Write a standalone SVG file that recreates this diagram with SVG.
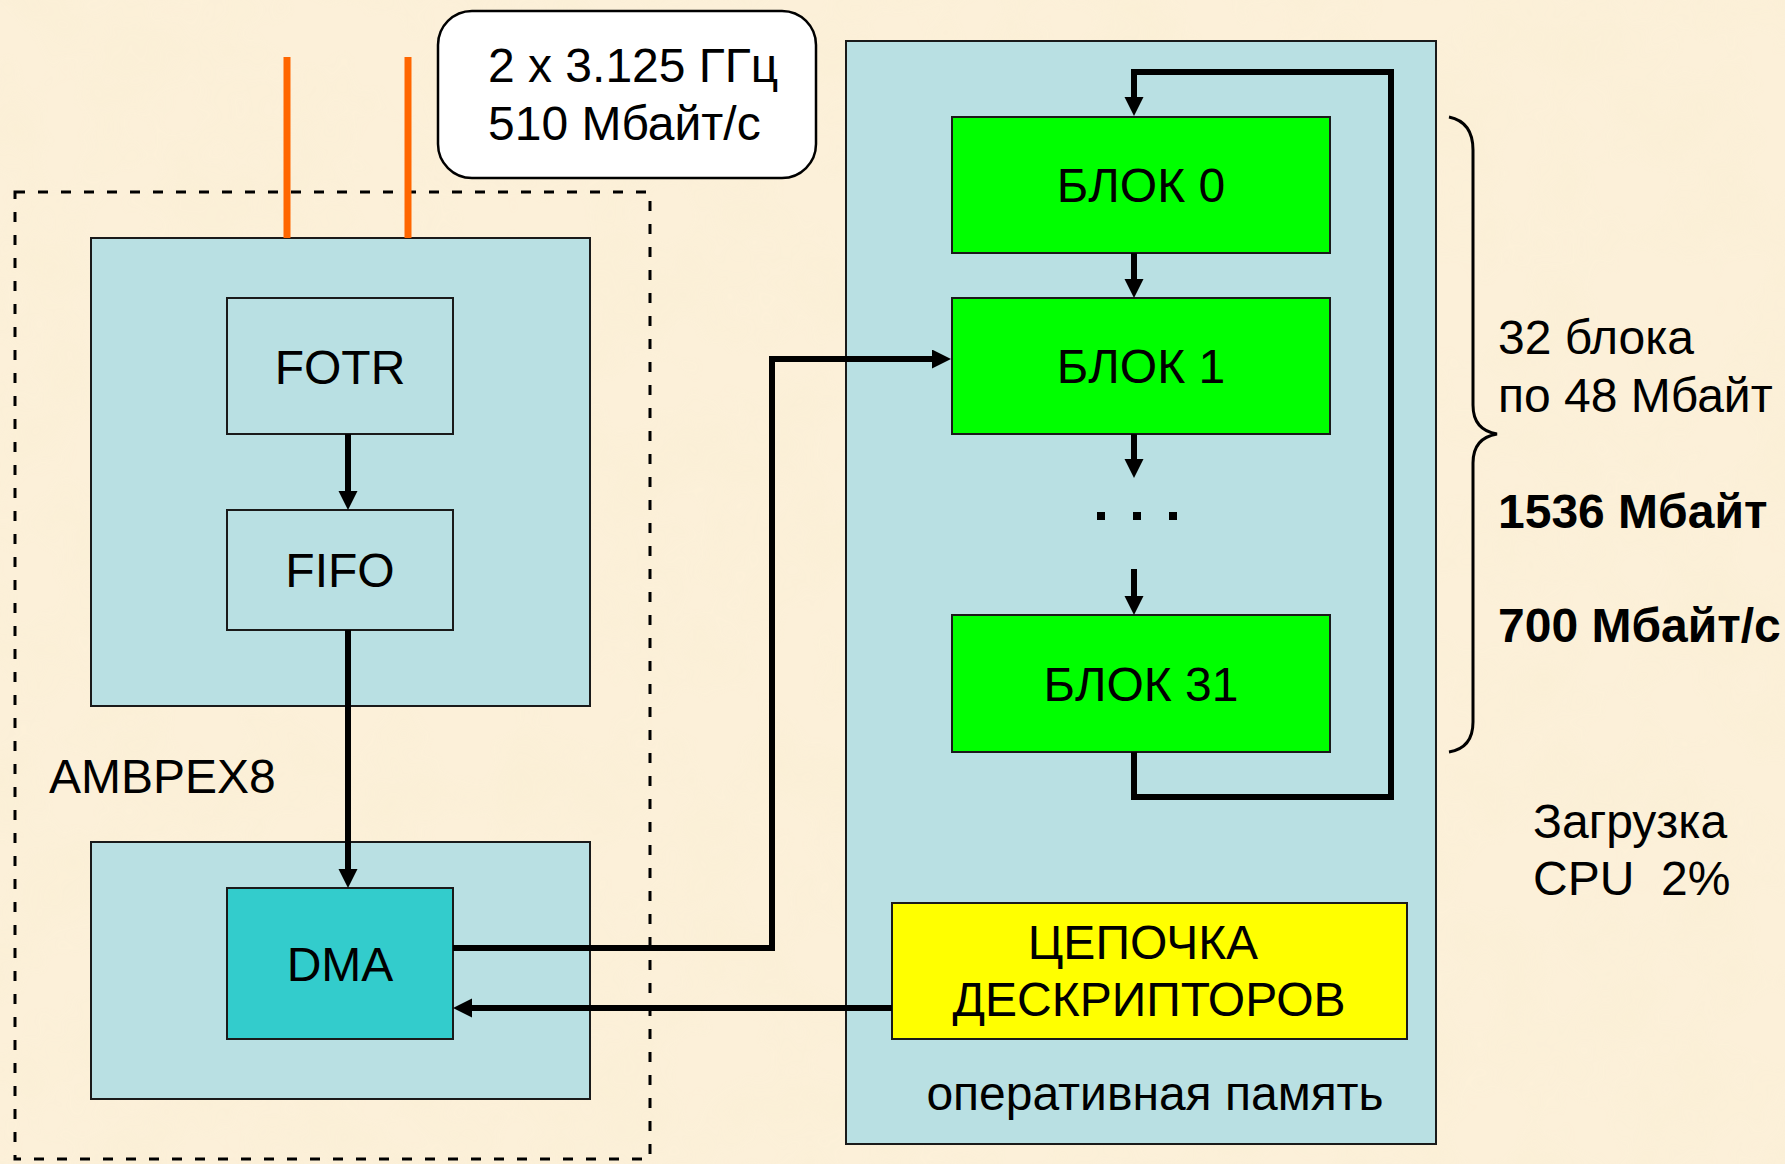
<svg xmlns="http://www.w3.org/2000/svg" width="1785" height="1164" viewBox="0 0 1785 1164">
<style>
text{font-family:"Liberation Sans",Arial,sans-serif;font-size:48px;fill:#000}
.c{text-anchor:middle}
.b{font-weight:bold}
.blue{fill:#B9E0E3;stroke:#1a1a1a;stroke-width:2}
.grn{fill:#00FF00;stroke:#1a1a1a;stroke-width:2}
.conn{fill:none;stroke:#000;stroke-width:6}
</style>
<defs>
<marker id="ah" markerUnits="userSpaceOnUse" markerWidth="20" markerHeight="20" refX="9" refY="9.5" orient="auto">
<path d="M0,0 L19,9.5 L0,19 z" fill="#000"/>
</marker>
<filter id="paper" x="0" y="0" width="100%" height="100%">
<feTurbulence type="fractalNoise" baseFrequency="0.012" numOctaves="3" seed="7" result="n"/>
<feColorMatrix type="matrix" values="0 0 0 0 0.93  0 0 0 0 0.85  0 0 0 0 0.62  0 0 0 1.2 -0.45"/>
</filter>
</defs>
<rect x="0" y="0" width="1785" height="1164" fill="#FCF0D9"/>
<rect x="0" y="0" width="1785" height="1164" filter="url(#paper)" opacity="0.45"/>

<g id="ambpex8">
<rect x="15" y="192" width="635" height="967" fill="none" stroke="#000" stroke-width="3" stroke-dasharray="10,13"/>
<text x="49" y="793">AMBPEX8</text>
</g>
<g id="fpga-box"><rect class="blue" x="91" y="238" width="499" height="468"/></g>
<g id="pcie-box"><rect class="blue" x="91" y="842" width="499" height="257"/></g>
<g id="links">
<line x1="287" y1="57" x2="287" y2="238" stroke="#FF6600" stroke-width="7"/>
<line x1="408" y1="57" x2="408" y2="238" stroke="#FF6600" stroke-width="7"/>
</g>
<g id="rate-label">
<rect x="438" y="11" width="378" height="167" rx="34" ry="34" fill="#fff" stroke="#000" stroke-width="2.5"/>
<text x="488" y="82">2 x 3.125 ГГц</text>
<text x="488" y="140">510 Мбайт/с</text>
</g>
<g id="fotr"><rect class="blue" x="227" y="298" width="226" height="136"/><text class="c" x="340" y="384">FOTR</text></g>
<g id="fifo"><rect class="blue" x="227" y="510" width="226" height="120"/><text class="c" x="340" y="587">FIFO</text></g>
<g id="dma"><rect x="227" y="888" width="226" height="151" fill="#33CCCC" stroke="#1a1a1a" stroke-width="2"/><text class="c" x="340" y="981">DMA</text></g>

<g id="ram">
<rect class="blue" x="846" y="41" width="590" height="1103"/>
<text class="c" x="1155" y="1110">оперативная память</text>
</g>
<g id="blk0"><rect class="grn" x="952" y="117" width="378" height="136"/><text class="c" x="1141" y="202">БЛОК 0</text></g>
<g id="blk1"><rect class="grn" x="952" y="298" width="378" height="136"/><text class="c" x="1141" y="383">БЛОК 1</text></g>
<g id="dots">
<rect x="1097" y="512" width="8" height="8"/>
<rect x="1133" y="512" width="8" height="8"/>
<rect x="1169" y="512" width="8" height="8"/>
</g>
<g id="blk31"><rect class="grn" x="952" y="615" width="378" height="137"/><text class="c" x="1141" y="701">БЛОК 31</text></g>
<g id="desc"><rect x="892" y="903" width="515" height="136" fill="#FFFF00" stroke="#1a1a1a" stroke-width="2"/>
<text class="c" x="1143" y="959">ЦЕПОЧКА</text><text class="c" x="1149" y="1016">ДЕСКРИПТОРОВ</text></g>

<g id="notes">
<path d="M1449,117 Q1473,122 1473,150 L1473,405 Q1473,430 1497,434 Q1473,438 1473,463 L1473,722 Q1473,748 1449,752" fill="none" stroke="#000" stroke-width="3"/>
<text x="1498" y="354">32 блока</text>
<text x="1498" y="412">по 48 Мбайт</text>
<text class="b" x="1498" y="528">1536 Мбайт</text>
<text class="b" x="1498" y="642">700 Мбайт/с</text>
<text x="1533" y="838">Загрузка</text>
<text x="1533" y="895" xml:space="preserve">CPU  2%</text>
</g>

<g id="connectors">
<path class="conn" d="M348,434 V500" marker-end="url(#ah)"/>
<path class="conn" d="M348,630 V878" marker-end="url(#ah)"/>
<path class="conn" d="M453,948 H772 V359 H941" marker-end="url(#ah)"/>
<path class="conn" d="M892,1008 H463" marker-end="url(#ah)"/>
<path class="conn" d="M1134,253 V288" marker-end="url(#ah)"/>
<path class="conn" d="M1134,434 V468" marker-end="url(#ah)"/>
<path class="conn" d="M1134,569 V605" marker-end="url(#ah)"/>
<path class="conn" d="M1134,752 V797 H1391 V72 H1134 V106" marker-end="url(#ah)"/>
</g>
</svg>
